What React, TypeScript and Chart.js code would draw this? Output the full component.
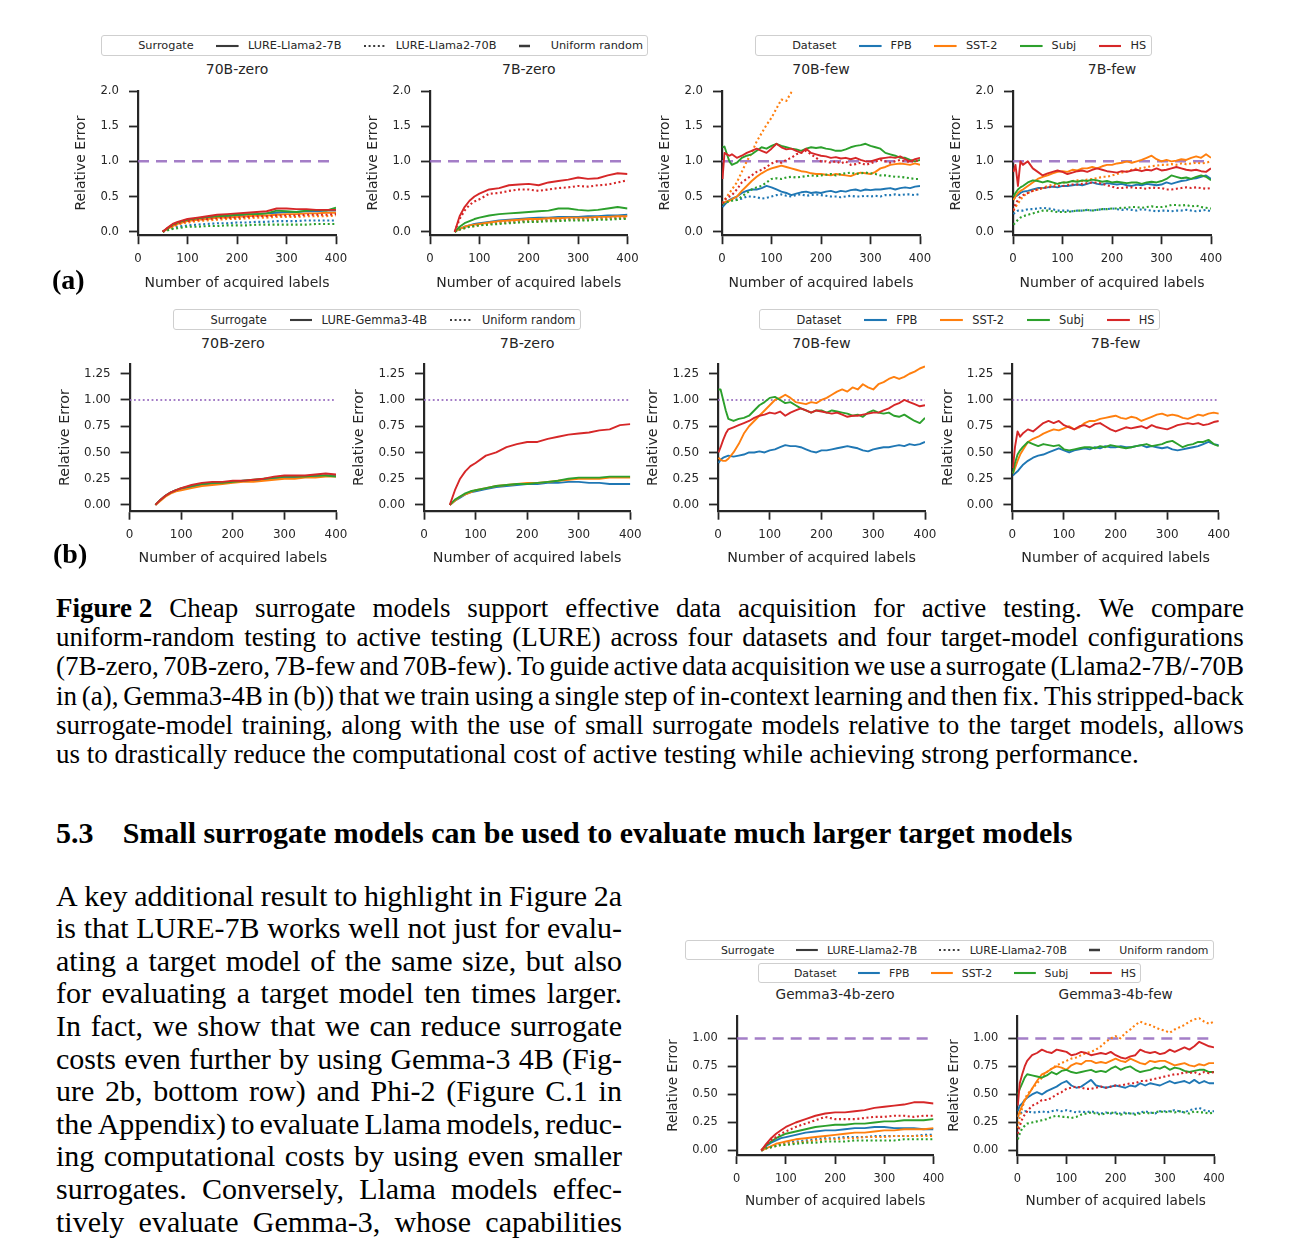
import React, { useEffect, useRef } from 'react';
import { Chart, registerables } from 'chart.js';
Chart.register(...registerables);

const SANS = "'DejaVu Sans', sans-serif";
const SERIF = "'Liberation Serif', 'Times New Roman', serif";
const INK = '#262626';
const TAB = ['#1f77b4', '#ff7f0e', '#2ca02c', '#d62728'];
const UNIFORM_COLOR = 'rgba(148,103,189,0.85)';
const HANDLE_INK = '#3a3a3a';

// ---------------- data ----------------
const DATASETS = ['FPB', 'SST-2', 'Subj', 'HS'];
const X_TICKS = [0, 100, 200, 300, 400];
const Y_TICKS_A = [0, 0.5, 1.0, 1.5, 2.0];
const Y_TICKS_B = [0, 0.25, 0.5, 0.75, 1.0, 1.25];
const Y_TICKS_C = [0, 0.25, 0.5, 0.75, 1.0];
const UNIFORM_X = [0, 400];
const UNIFORM_Y = [1, 1];

const X_ZERO = [50, 60, 70, 80, 90, 100, 120, 140, 160, 180, 200, 220, 240, 260, 280, 300, 320, 340, 360, 380, 400];
const X_FEW = [1, 5, 10, 15, 20, 30, 40, 50, 60, 70, 80, 90, 100, 110, 120, 130, 140, 150, 160, 170, 180, 190, 200,
  210, 220, 230, 240, 250, 260, 270, 280, 290, 300, 310, 320, 330, 340, 350, 360, 370, 380, 390, 400];

// (a) 70B-zero
const A1_FPB_7B = [0, .05, .09, .12, .14, .16, .18, .2, .21, .22, .23, .24, .25, .26, .27, .28, .28, .29, .29, .3, .3];
const A1_SST_7B = [0, .04, .08, .11, .13, .15, .17, .18, .2, .2, .21, .22, .23, .23, .24, .25, .25, .26, .26, .27, .27];
const A1_SUBJ_7B = [0, .05, .1, .13, .15, .17, .19, .21, .22, .23, .24, .25, .25, .26, .3, .29, .28, .3, .31, .3, .34];
const A1_HS_7B = [0, .06, .11, .14, .16, .18, .2, .22, .24, .25, .26, .27, .28, .29, .33, .33, .32, .32, .31, .31, .31];
const A1_FPB_70B = [0, .03, .05, .07, .08, .09, .1, .11, .12, .12, .13, .13, .14, .14, .15, .15, .15, .16, .16, .16, .16];
const A1_SST_70B = [0, .04, .07, .1, .12, .13, .15, .16, .17, .18, .18, .19, .2, .2, .21, .21, .21, .22, .22, .22, .23];
const A1_SUBJ_70B = [0, .02, .04, .05, .06, .07, .07, .08, .08, .09, .09, .09, .1, .1, .1, .1, .1, .1, .11, .11, .11];
const A1_HS_70B = [0, .05, .09, .12, .14, .15, .17, .18, .19, .2, .2, .21, .22, .22, .23, .23, .23, .24, .24, .24, .25];

// (a) 7B-zero
const A2_FPB_7B = [0, .04, .07, .09, .11, .12, .14, .16, .17, .18, .19, .2, .2, .21, .21, .21, .22, .22, .23, .23, .24];
const A2_SST_7B = [0, .04, .07, .09, .1, .11, .13, .15, .16, .17, .18, .18, .19, .19, .2, .2, .2, .21, .21, .22, .22];
const A2_SUBJ_7B = [0, .07, .12, .15, .18, .2, .23, .25, .26, .27, .28, .29, .3, .33, .33, .31, .3, .31, .33, .35, .33];
const A2_HS_7B = [0, .22, .35, .44, .5, .54, .6, .62, .66, .67, .68, .66, .7, .72, .74, .77, .75, .76, .8, .83, .82];
const A2_FPB_70B = [0, .03, .06, .08, .09, .1, .12, .13, .14, .15, .16, .16, .17, .17, .18, .18, .19, .19, .2, .2, .2];
const A2_SST_70B = [0, .03, .05, .07, .08, .09, .11, .12, .13, .14, .15, .15, .16, .16, .17, .17, .17, .18, .18, .19, .19];
const A2_SUBJ_70B = [0, .03, .05, .07, .08, .09, .1, .11, .12, .13, .14, .14, .15, .15, .16, .16, .16, .17, .17, .18, .18];
const A2_HS_70B = [0, .18, .3, .38, .43, .46, .54, .55, .58, .6, .6, .58, .6, .62, .63, .65, .64, .66, .67, .7, .73];

// (a) 70B-few
const A3_FPB_7B = [.35, .38, .42, .45, .47, .5, .55, .58, .6, .6, .62, .65, .63, .6, .57, .55, .52, .54, .56, .57, .55, .56, .55,
  .57, .58, .56, .58, .57, .59, .6, .58, .6, .59, .6, .6, .61, .62, .6, .62, .63, .62, .64, .65];
const A3_SST_7B = [.4, .42, .43, .44, .46, .5, .58, .65, .72, .78, .83, .87, .9, .92, .94, .92, .9, .88, .86, .85, .83, .82, .82,
  .81, .8, .82, .81, .8, .79, .82, .84, .83, .82, .85, .9, .92, .95, .96, .97, .96, .95, .97, .95];
const A3_SUBJ_7B = [1.2, 1.21, 1.1, 1.0, .95, .98, 1.05, 1.08, 1.1, 1.15, 1.2, 1.18, 1.22, 1.25, 1.22, 1.2, 1.18, 1.17, 1.15, 1.18, 1.2, 1.19, 1.2,
  1.18, 1.17, 1.15, 1.15, 1.17, 1.2, 1.22, 1.23, 1.25, 1.22, 1.2, 1.18, 1.12, 1.1, 1.08, 1.05, 1.05, 1.02, 1.0, 1.02];
const A3_HS_7B = [.75, 1.12, 1.1, 1.08, 1.1, 1.05, 1.08, 1.12, 1.15, 1.18, 1.15, 1.12, 1.18, 1.25, 1.2, 1.17, 1.18, 1.15, 1.12, 1.18, 1.12, 1.1, 1.08,
  1.07, 1.05, 1.06, 1.04, 1.05, 1.03, 1.05, 1.02, 1.0, 1.0, 1.02, 1.04, 1.05, 1.06, 1.05, 1.07, 1.03, 1.0, 1.03, 1.05];
const A3_FPB_70B = [.4, .42, .43, .44, .45, .46, .47, .5, .5, .49, .47, .48, .5, .52, .53, .51, .5, .52, .53, .51, .52, .53, .52,
  .51, .5, .5, .49, .5, .51, .5, .5, .51, .5, .51, .5, .52, .52, .53, .52, .53, .53, .52, .54];
const A3_SST_70B = [.4, .45, .5, .55, .6, .7, .85, 1.0, 1.12, 1.28, 1.4, 1.52, 1.62, 1.75, 1.88, 1.86, 1.98, 2.06];
const A3_SUBJ_70B = [.4, .4, .42, .43, .44, .45, .5, .55, .6, .63, .65, .7, .75, .76, .75, .77, .78, .77, .78, .79, .8, .79, .8,
  .81, .82, .8, .82, .83, .84, .82, .83, .84, .83, .82, .8, .8, .79, .78, .78, .77, .76, .75, .75];
const A3_HS_70B = [.4, .45, .48, .5, .52, .6, .7, .75, .8, .85, .88, .92, .97, 1.0, .98, 1.02, 1.05, 1.1, 1.12, 1.15, 1.1, 1.05, 1.0,
  1.0, .98, 1.0, .97, 1.0, .95, .96, .98, .95, .97, 1.0, 1.02, 1.0, .98, 1.0, 1.02, 1.0, .99, 1.01, 1.0];

// (a) 7B-few
const A4_FPB_7B = [.45, .5, .52, .55, .57, .58, .6, .62, .62, .63, .64, .63, .65, .65, .66, .67, .66, .68, .7, .68, .67, .69, .68,
  .67, .68, .66, .65, .67, .66, .68, .67, .66, .67, .7, .68, .7, .72, .73, .75, .76, .78, .8, .75];
const A4_SST_7B = [.45, .5, .55, .58, .6, .65, .7, .75, .78, .8, .83, .85, .86, .85, .88, .87, .9, .9, .92, .9, .93, .95, .95,
  .97, .98, 1.0, .98, 1.0, 1.02, 1.05, 1.08, 1.03, 1.0, 1.02, 1.0, 1.01, 1.03, 1.02, 1.05, 1.07, 1.05, 1.1, 1.05];
const A4_SUBJ_7B = [.5, .55, .6, .63, .65, .7, .73, .72, .7, .72, .7, .68, .7, .7, .72, .71, .73, .72, .74, .73, .71, .72, .7,
  .71, .7, .69, .7, .7, .68, .7, .71, .7, .72, .75, .8, .78, .76, .77, .75, .78, .8, .78, .73];
const A4_HS_7B = [.85, .95, .65, 1.0, .95, 1.0, .9, .85, .8, .83, .85, .87, .85, .82, .84, .86, .87, .85, .88, .9, .88, .86, .85,
  .84, .86, .85, .87, .88, .86, .88, .87, .9, .87, .88, .9, .92, .9, .88, .87, .88, .86, .85, .9];
const A4_FPB_70B = [.25, .28, .3, .3, .3, .32, .32, .33, .34, .33, .32, .3, .3, .3, .29, .3, .3, .31, .3, .31, .32, .32, .33,
  .32, .31, .32, .31, .3, .32, .31, .3, .29, .3, .3, .29, .3, .3, .31, .3, .29, .3, .31, .29];
const A4_SST_70B = [.3, .35, .4, .45, .5, .55, .58, .6, .62, .65, .67, .68, .7, .7, .72, .73, .72, .74, .75, .76, .78, .78, .8,
  .82, .84, .86, .88, .9, .9, .92, .93, .94, .95, .95, .96, .95, .97, .96, .97, .98, .97, .98, 1.0];
const A4_SUBJ_70B = [.1, .13, .17, .2, .22, .24, .26, .28, .3, .3, .29, .28, .28, .28, .29, .3, .3, .31, .3, .31, .32, .32, .33,
  .33, .34, .34, .35, .35, .34, .35, .36, .35, .35, .36, .38, .38, .37, .38, .36, .37, .35, .34, .33];
const A4_HS_70B = [.3, .4, .45, .5, .52, .55, .58, .6, .62, .63, .64, .65, .65, .66, .67, .67, .68, .69, .7, .7, .68, .66, .64,
  .62, .62, .63, .63, .62, .62, .61, .63, .62, .62, .6, .6, .61, .62, .63, .62, .63, .62, .61, .62];

// (b) 70B-zero, 7B-zero
const B1_FPB = [0, .05, .09, .12, .14, .15, .17, .19, .2, .21, .22, .23, .23, .24, .25, .26, .26, .27, .27, .28, .28];
const B1_SST = [0, .04, .08, .11, .13, .14, .16, .18, .19, .2, .21, .22, .22, .23, .24, .25, .25, .26, .26, .27, .27];
const B1_SUBJ = [0, .05, .09, .12, .14, .16, .18, .2, .21, .21, .22, .23, .24, .25, .26, .27, .27, .27, .28, .28, .27];
const B1_HS = [0, .05, .09, .12, .14, .16, .19, .21, .22, .22, .23, .23, .24, .25, .27, .28, .28, .28, .29, .3, .29];
const B2_FPB = [0, .04, .07, .1, .12, .13, .15, .17, .18, .19, .2, .2, .21, .21, .22, .22, .21, .21, .2, .2, .2];
const B2_SST = [0, .04, .08, .1, .12, .14, .16, .18, .19, .2, .21, .21, .22, .23, .24, .25, .25, .25, .26, .26, .26];
const B2_SUBJ = [0, .05, .08, .11, .13, .14, .16, .18, .19, .2, .2, .21, .22, .23, .25, .26, .26, .26, .27, .27, .27];
const B2_HS = [0, .14, .25, .32, .37, .4, .47, .5, .55, .58, .6, .6, .63, .65, .67, .68, .69, .71, .72, .76, .77];

// (b) 70B-few, 7B-few
const B3_FPB = [.4, .43, .45, .46, .47, .46, .47, .48, .5, .5, .51, .5, .52, .53, .55, .57, .56, .56, .55, .53, .51, .5, .52,
  .52, .53, .54, .55, .56, .55, .54, .52, .51, .53, .54, .55, .55, .56, .57, .56, .58, .57, .58, .6];
const B3_SST = [.45, .43, .42, .42, .44, .5, .58, .68, .75, .8, .85, .9, .95, 1.0, 1.02, 1.05, 1.02, .98, .97, .96, .98, .97, 1.0,
  1.02, 1.05, 1.08, 1.1, 1.08, 1.12, 1.1, 1.15, 1.12, 1.1, 1.15, 1.17, 1.2, 1.22, 1.2, 1.22, 1.25, 1.27, 1.3, 1.32];
const B3_SUBJ = [1.1, 1.1, 1.0, .9, .82, .8, .82, .83, .85, .9, .95, .98, 1.02, 1.03, 1.0, .97, .98, .95, .92, .9, .88, .9, .9,
  .88, .9, .89, .88, .87, .85, .86, .84, .88, .9, .88, .87, .88, .85, .84, .86, .83, .8, .78, .83];
const B3_HS = [.5, .55, .62, .68, .72, .74, .76, .78, .8, .83, .85, .86, .88, .87, .89, .85, .88, .9, .92, .9, .88, .9, .89,
  .88, .87, .88, .86, .84, .85, .85, .86, .87, .88, .88, .9, .92, .95, .97, 1.0, .98, .96, .94, .95];
const B4_FPB = [.28, .3, .32, .35, .38, .42, .45, .47, .48, .5, .52, .54, .52, .5, .52, .53, .54, .53, .55, .54, .56, .55, .55,
  .56, .55, .55, .56, .57, .55, .56, .55, .54, .55, .53, .52, .53, .54, .55, .56, .58, .6, .58, .57];
const B4_SST = [.3, .35, .42, .48, .52, .6, .63, .65, .68, .7, .72, .71, .73, .75, .72, .74, .78, .8, .8, .82, .83, .84, .85,
  .83, .82, .84, .83, .8, .82, .84, .86, .87, .85, .86, .85, .83, .82, .84, .86, .85, .87, .88, .87];
const B4_SUBJ = [.3, .4, .48, .52, .55, .6, .58, .56, .58, .57, .56, .57, .53, .52, .53, .54, .55, .55, .54, .56, .55, .57, .56,
  .55, .54, .55, .56, .57, .58, .56, .57, .58, .6, .61, .58, .55, .57, .58, .6, .6, .62, .58, .56];
const B4_HS = [.35, .55, .7, .65, .68, .72, .7, .74, .78, .8, .78, .8, .76, .74, .72, .75, .76, .74, .77, .78, .75, .72, .7,
  .72, .74, .73, .74, .75, .73, .76, .74, .73, .72, .74, .76, .77, .78, .77, .78, .76, .77, .79, .8];

// Figure 3: Gemma3-4b-zero
const C1_FPB_7B = [0, .04, .07, .09, .11, .12, .14, .16, .17, .18, .18, .19, .2, .2, .21, .21, .2, .2, .2, .19, .19];
const C1_SST_7B = [0, .02, .04, .06, .07, .08, .1, .11, .12, .13, .14, .15, .16, .16, .17, .18, .18, .19, .19, .19, .2];
const C1_SUBJ_7B = [0, .05, .08, .11, .13, .15, .17, .19, .21, .22, .23, .23, .24, .24, .25, .26, .26, .27, .27, .27, .28];
const C1_HS_7B = [0, .06, .11, .15, .18, .21, .25, .28, .31, .33, .34, .34, .35, .36, .38, .39, .4, .41, .43, .43, .42];
const C1_FPB_70B = [0, .02, .03, .05, .06, .07, .08, .09, .1, .11, .11, .12, .12, .12, .13, .13, .13, .13, .13, .14, .14];
const C1_SST_70B = [0, .02, .03, .04, .05, .06, .07, .08, .09, .1, .1, .11, .11, .12, .12, .12, .13, .13, .13, .13, .13];
const C1_SUBJ_70B = [0, .02, .03, .04, .05, .05, .06, .07, .07, .08, .08, .08, .09, .09, .09, .09, .09, .1, .1, .1, .1];
const C1_HS_70B = [0, .05, .09, .12, .15, .17, .21, .24, .27, .3, .28, .28, .28, .29, .3, .3, .31, .31, .3, .31, .31];

// Figure 3: Gemma3-4b-few
const C2_FPB_7B = [.35, .4, .42, .45, .47, .5, .52, .5, .53, .55, .57, .6, .62, .58, .56, .57, .6, .63, .58, .57, .56, .57, .58,
  .57, .56, .58, .57, .6, .58, .6, .59, .58, .6, .62, .6, .61, .62, .6, .63, .6, .62, .6, .6];
const C2_SST_7B = [.3, .35, .4, .45, .48, .55, .62, .68, .7, .73, .75, .74, .72, .76, .78, .77, .8, .8, .78, .79, .78, .8, .82,
  .8, .79, .82, .8, .78, .77, .8, .79, .8, .8, .78, .76, .77, .78, .76, .75, .77, .76, .78, .78];
const C2_SUBJ_7B = [.5, .55, .6, .65, .68, .67, .66, .65, .67, .7, .68, .71, .72, .7, .69, .7, .71, .72, .7, .71, .7, .73, .75,
  .72, .74, .75, .72, .7, .71, .72, .74, .73, .75, .72, .74, .73, .71, .7, .71, .72, .72, .7, .7];
const C2_HS_7B = [.4, .6, .68, .75, .8, .85, .87, .9, .88, .87, .9, .89, .88, .85, .86, .88, .87, .85, .86, .87, .86, .88, .85,
  .83, .82, .84, .85, .9, .88, .87, .88, .86, .87, .9, .88, .9, .92, .9, .93, .97, .95, .93, .92];
const C2_FPB_70B = [.3, .33, .34, .35, .35, .34, .34, .35, .34, .35, .36, .35, .36, .35, .34, .35, .34, .35, .34, .33, .34, .33, .34,
  .33, .34, .33, .33, .34, .35, .34, .33, .35, .35, .35, .36, .35, .34, .36, .37, .38, .36, .35, .35];
const C2_SST_70B = [.2, .3, .38, .45, .5, .55, .6, .65, .7, .73, .76, .78, .8, .82, .83, .85, .87, .88, .9, .93, .97, 1.0, 1.02,
  1.0, 1.05, 1.08, 1.12, 1.15, 1.13, 1.12, 1.1, 1.08, 1.07, 1.05, 1.08, 1.1, 1.12, 1.15, 1.17, 1.18, 1.15, 1.13, 1.15];
const C2_SUBJ_70B = [.1, .15, .2, .22, .24, .25, .26, .27, .28, .3, .31, .3, .3, .29, .3, .32, .33, .34, .33, .32, .33, .34, .33,
  .32, .33, .33, .32, .33, .34, .33, .34, .35, .34, .35, .34, .35, .34, .33, .35, .34, .34, .33, .34];
const C2_HS_70B = [.15, .22, .28, .32, .35, .4, .42, .45, .45, .47, .5, .52, .55, .56, .57, .56, .55, .55, .56, .57, .56, .57, .58,
  .58, .59, .6, .6, .62, .62, .63, .64, .65, .66, .67, .68, .68, .7, .69, .7, .68, .7, .69, .7];

const CAPTION_LINES = [
  'Cheap surrogate models support effective data acquisition for active testing. We compare',
  'uniform-random testing to active testing (LURE) across four datasets and four target-model configurations',
  '(7B-zero, 70B-zero, 7B-few and 70B-few). To guide active data acquisition we use a surrogate (Llama2-7B/-70B',
  'in (a), Gemma3-4B in (b)) that we train using a single step of in-context learning and then fix. This stripped-back',
  'surrogate-model training, along with the use of small surrogate models relative to the target models, allows',
  'us to drastically reduce the computational cost of active testing while achieving strong performance.',
];
const BODY_LINES = [
  'A key additional result to highlight in Figure 2a',
  'is that LURE-7B works well not just for evalu-',
  'ating a target model of the same size, but also',
  'for evaluating a target model ten times larger.',
  'In fact, we show that we can reduce surrogate',
  'costs even further by using Gemma-3 4B (Fig-',
  'ure 2b, bottom row) and Phi-2 (Figure C.1 in',
  'the Appendix) to evaluate Llama models, reduc-',
  'ing computational costs by using even smaller',
  'surrogates. Conversely, Llama models effec-',
  'tively evaluate Gemma-3, whose capabilities',
];

// ---------------- types & helpers ----------------
type LineSpec = { xs: number[]; ys: number[]; c: number; dot: boolean };
type PanelSpec = {
  title: string; box: number[]; titleY: number; yRange: number[]; yTicks: number[]; digits: number;
  yW: number; xH: number; fs: number; uniformDot: boolean; lines: LineSpec[];
};

function group(xs: number[], solid: number[][], dotted: number[][] | null): LineSpec[] {
  const out: LineSpec[] = [];
  solid.forEach((ys, i) => {
    out.push({ xs, ys, c: i, dot: false });
    if (dotted) out.push({ xs, ys: dotted[i], c: i, dot: true });
  });
  return out;
}

const ROW_A = { top: 91, bottom: 235.2, yRange: [-0.05, 2.0], yTicks: Y_TICKS_A, digits: 1, yW: 64.7, xH: 56.5, fs: 1, titleY: 69.3, uniformDot: false };
const ROW_B = { top: 364.3, bottom: 510.7, yRange: [-0.055, 1.34], yTicks: Y_TICKS_B, digits: 2, yW: 72.8, xH: 56, fs: 1.02, titleY: 343.3, uniformDot: true };
const ROW_C = { top: 1016, bottom: 1155, yRange: [-0.04, 1.2], yTicks: Y_TICKS_C, digits: 2, yW: 71.4, xH: 55.1, fs: 0.975, titleY: 995, uniformDot: false };

function mkPanel(row: any, title: string, L: number, R: number, lines: LineSpec[]): PanelSpec {
  return { title, box: [L, row.top, R, row.bottom], titleY: row.titleY, yRange: row.yRange, yTicks: row.yTicks,
    digits: row.digits, yW: row.yW, xH: row.xH, fs: row.fs, uniformDot: row.uniformDot, lines };
}

const PANELS: PanelSpec[] = [
  mkPanel(ROW_A, '70B-zero', 138, 336, group(X_ZERO, [A1_FPB_7B, A1_SST_7B, A1_SUBJ_7B, A1_HS_7B], [A1_FPB_70B, A1_SST_70B, A1_SUBJ_70B, A1_HS_70B])),
  mkPanel(ROW_A, '7B-zero', 430, 627.5, group(X_ZERO, [A2_FPB_7B, A2_SST_7B, A2_SUBJ_7B, A2_HS_7B], [A2_FPB_70B, A2_SST_70B, A2_SUBJ_70B, A2_HS_70B])),
  mkPanel(ROW_A, '70B-few', 722, 920, group(X_FEW, [A3_FPB_7B, A3_SST_7B, A3_SUBJ_7B, A3_HS_7B], [A3_FPB_70B, A3_SST_70B, A3_SUBJ_70B, A3_HS_70B])),
  mkPanel(ROW_A, '7B-few', 1013, 1211, group(X_FEW, [A4_FPB_7B, A4_SST_7B, A4_SUBJ_7B, A4_HS_7B], [A4_FPB_70B, A4_SST_70B, A4_SUBJ_70B, A4_HS_70B])),
  mkPanel(ROW_B, '70B-zero', 129.6, 336, group(X_ZERO, [B1_FPB, B1_SST, B1_SUBJ, B1_HS], null)),
  mkPanel(ROW_B, '7B-zero', 424, 630.3, group(X_ZERO, [B2_FPB, B2_SST, B2_SUBJ, B2_HS], null)),
  mkPanel(ROW_B, '70B-few', 718, 925, group(X_FEW, [B3_FPB, B3_SST, B3_SUBJ, B3_HS], null)),
  mkPanel(ROW_B, '7B-few', 1012.4, 1218.8, group(X_FEW, [B4_FPB, B4_SST, B4_SUBJ, B4_HS], null)),
  mkPanel(ROW_C, 'Gemma3-4b-zero', 736.7, 933.5, group(X_ZERO, [C1_FPB_7B, C1_SST_7B, C1_SUBJ_7B, C1_HS_7B], [C1_FPB_70B, C1_SST_70B, C1_SUBJ_70B, C1_HS_70B])),
  mkPanel(ROW_C, 'Gemma3-4b-few', 1017.3, 1214, group(X_FEW, [C2_FPB_7B, C2_SST_7B, C2_SUBJ_7B, C2_HS_7B], [C2_FPB_70B, C2_SST_70B, C2_SUBJ_70B, C2_HS_70B])),
];

// ---------------- chart panel ----------------
function Panel({ p }: { p: PanelSpec }) {
  const ref = useRef<HTMLCanvasElement | null>(null);
  const [L, T, R, B] = p.box;
  const left = Math.round(L - p.yW);
  const top = Math.round(T - 28);
  const yW = L - left;
  const padTop = T - top;
  const cw = Math.ceil(R - left + 30);
  const padRight = cw - (R - left);
  const ch = Math.ceil(B - top + p.xH);
  const padBottom = ch - (B - top) - p.xH;

  useEffect(() => {
    if (!ref.current) return;
    const lineSets = p.lines.map((l) => ({
      data: l.ys.map((y, i) => ({ x: l.xs[i], y })),
      borderColor: TAB[l.c],
      borderWidth: l.dot ? 2.1 : 1.9,
      borderDash: l.dot ? [2, 2.6] : [],
      borderCapStyle: 'butt',
      borderJoinStyle: 'round',
      pointRadius: 0,
      fill: false,
      tension: 0,
    }));
    const uniform = {
      data: UNIFORM_X.map((x, i) => ({ x, y: UNIFORM_Y[i] })),
      borderColor: UNIFORM_COLOR,
      borderWidth: p.uniformDot ? 1.8 : 2.5,
      borderDash: p.uniformDot ? [1.8, 2.6] : [11, 7],
      pointRadius: 0,
      fill: false,
    };
    const datasets = [uniform, ...lineSets].reverse();
    const fs = p.fs;
    const chart = new Chart(ref.current, {
      type: 'line',
      data: { datasets: datasets as any },
      options: {
        animation: false,
        responsive: false,
        maintainAspectRatio: false,
        layout: { padding: { left: 0, top: padTop, right: padRight, bottom: padBottom } },
        plugins: { legend: { display: false }, tooltip: { enabled: false }, title: { display: false } },
        scales: {
          x: {
            type: 'linear', min: 0, max: 400, bounds: 'data',
            afterBuildTicks: (s: any) => { s.ticks = X_TICKS.map((v) => ({ value: v })); },
            afterFit: (s: any) => { s.height = p.xH; },
            border: { display: true, color: INK, width: 2.2 },
            grid: { drawOnChartArea: false, drawTicks: true, tickLength: 9, tickWidth: 1.8, tickColor: INK },
            ticks: { color: INK, padding: 8, maxRotation: 0, autoSkip: false, font: { family: SANS, size: 11.7 * fs },
              callback: (v: any) => String(v) },
            title: { display: true, text: 'Number of acquired labels', color: INK, padding: 0, font: { family: SANS, size: 14 * fs } },
          },
          y: {
            type: 'linear', min: p.yRange[0], max: p.yRange[1], bounds: 'data',
            afterBuildTicks: (s: any) => { s.ticks = p.yTicks.map((v) => ({ value: v })); },
            afterFit: (s: any) => { s.width = yW; },
            border: { display: true, color: INK, width: 2.2 },
            grid: { drawOnChartArea: false, drawTicks: true, tickLength: 9, tickWidth: 1.8, tickColor: INK },
            ticks: { color: INK, padding: 10, autoSkip: false, font: { family: SANS, size: 11.7 * fs },
              callback: (v: any) => Number(v).toFixed(p.digits) },
            title: { display: true, text: 'Relative Error', color: INK, padding: 0, font: { family: SANS, size: 14 * fs } },
          },
        },
      } as any,
    });
    return () => chart.destroy();
  }, []);

  return (
    <>
      <div style={{ position: 'absolute', left: (L + R) / 2, top: p.titleY, transform: 'translate(-50%, -50%)',
        fontFamily: SANS, fontSize: 14 * p.fs, color: INK, whiteSpace: 'nowrap', lineHeight: 1 }}>{p.title}</div>
      <canvas ref={ref} width={cw} height={ch}
        style={{ position: 'absolute', left, top, width: cw, height: ch }} />
    </>
  );
}

// ---------------- legends ----------------
type LegendItem = { label: string; kind: 'blank' | 'solid' | 'dot' | 'dash'; color?: string };

const LEG_SURR_A: LegendItem[] = [
  { label: 'Surrogate', kind: 'blank' }, { label: 'LURE-Llama2-7B', kind: 'solid' },
  { label: 'LURE-Llama2-70B', kind: 'dot' }, { label: 'Uniform random', kind: 'dash' },
];
const LEG_SURR_B: LegendItem[] = [
  { label: 'Surrogate', kind: 'blank' }, { label: 'LURE-Gemma3-4B', kind: 'solid' }, { label: 'Uniform random', kind: 'dot' },
];
const LEG_DATA: LegendItem[] = [{ label: 'Dataset', kind: 'blank' },
  ...DATASETS.map((d, i) => ({ label: d, kind: 'solid' as const, color: TAB[i] }))];

function Handle({ it }: { it: LegendItem }) {
  const col = it.color || HANDLE_INK;
  const dash = it.kind === 'dot' ? '2 2.6' : it.kind === 'dash' ? '11 40' : undefined;
  return (
    <svg style={{ width: '2em', height: 8, display: 'block', flex: 'none' }}>
      {it.kind !== 'blank' && (
        <line x1="0" y1="4" x2="100%" y2="4" stroke={col} strokeWidth={it.kind === 'dash' ? 2.5 : 2.1}
          strokeDasharray={dash} />
      )}
    </svg>
  );
}

function Legend({ left, top, height, size, items }: { left: number; top: number; height: number; size: number; items: LegendItem[] }) {
  return (
    <div style={{ position: 'absolute', left, top, height, boxSizing: 'border-box', border: '1px solid #cfcfcf',
      borderRadius: 3, background: '#fff', display: 'flex', alignItems: 'center', padding: '0 0.4em',
      fontFamily: SANS, fontSize: size, color: INK, whiteSpace: 'nowrap' }}>
      {items.map((it, i) => (
        <div key={i} style={{ display: 'flex', alignItems: 'center', marginLeft: i ? '2em' : 0 }}>
          <Handle it={it} />
          <span style={{ marginLeft: '0.8em' }}>{it.label}</span>
        </div>
      ))}
    </div>
  );
}

// ---------------- text ----------------
function TextLine({ left, width, cy, size, lh, text, lead, justify, bold }:
  { left: number; width: number; cy: number; size: number; lh: number; text: string; lead?: string; justify: boolean; bold?: boolean }) {
  const words = text.split(' ');
  return (
    <div style={{ position: 'absolute', left, top: cy - lh / 2, width, height: lh, lineHeight: lh + 'px',
      fontFamily: SERIF, fontSize: size, color: '#000', display: 'flex', whiteSpace: 'pre',
      justifyContent: justify ? 'space-between' : 'flex-start', fontWeight: bold ? 'bold' : 'normal' }}>
      {justify
        ? [lead ? <b key="lead">{lead}</b> : null, ...words.map((w, i) => <span key={i}>{w}</span>)]
        : <span>{lead ? <b>{lead + '  '}</b> : null}{text}</span>}
    </div>
  );
}

export default function App() {
  return (
    <div style={{ position: 'absolute', left: 0, top: 0, width: 1297, height: 1242, overflow: 'hidden', background: '#fff' }}>
      <Legend left={101} top={35} height={21} size={11.3} items={LEG_SURR_A} />
      <Legend left={755} top={35} height={21} size={11.3} items={LEG_DATA} />
      <Legend left={173} top={309} height={21} size={11.43} items={LEG_SURR_B} />
      <Legend left={759} top={309} height={21} size={11.43} items={LEG_DATA} />
      <Legend left={685} top={940} height={20} size={10.92} items={LEG_SURR_A} />
      <Legend left={758} top={963} height={20} size={10.92} items={LEG_DATA} />

      {PANELS.map((p, i) => <Panel key={i} p={p} />)}

      <div style={{ position: 'absolute', left: 52, top: 280, transform: 'translateY(-50%)', fontFamily: SERIF,
        fontWeight: 'bold', fontSize: 28, lineHeight: 1 }}>(a)</div>
      <div style={{ position: 'absolute', left: 53, top: 554, transform: 'translateY(-50%)', fontFamily: SERIF,
        fontWeight: 'bold', fontSize: 28, lineHeight: 1 }}>(b)</div>

      {CAPTION_LINES.map((t, i) => (
        <TextLine key={'c' + i} left={56} width={1188} cy={608.5 + 29.2 * i} size={27} lh={29}
          text={t} lead={i === 0 ? 'Figure\u00a02' : undefined} justify={i < CAPTION_LINES.length - 1} />
      ))}

      <TextLine left={56} width={60} cy={833} size={30} lh={32} text="5.3" justify={false} bold />
      <TextLine left={122.7} width={1000} cy={833} size={30} lh={32}
        text="Small surrogate models can be used to evaluate much larger target models" justify={false} bold />

      {BODY_LINES.map((t, i) => (
        <TextLine key={'b' + i} left={56} width={566} cy={895.5 + 32.6 * i} size={30} lh={32} text={t} justify />
      ))}

      <TextLine left={648} width={600} cy={1252} size={27} lh={29}
        text="Models evaluated with surrogates of a different family." lead="Figure 3:" justify={false} />
    </div>
  );
}
